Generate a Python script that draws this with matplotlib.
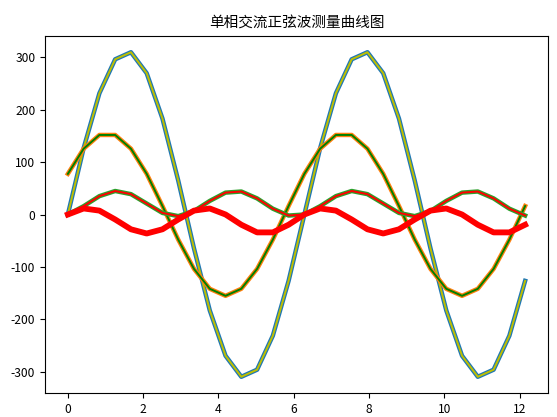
import matplotlib
matplotlib.use("Agg")
import matplotlib.pyplot as plt

plt.rcParams['font.family'] = ['Noto Sans CJK SC', 'DejaVu Sans']
plt.rcParams['axes.unicode_minus'] = False

x = [0.0, 0.419, 0.838, 1.257, 1.676, 2.094, 2.513, 2.932, 3.351, 3.770,
     4.189, 4.608, 5.027, 5.445, 5.864, 6.283, 6.702, 7.121, 7.540, 7.959,
     8.378, 8.796, 9.215, 9.634, 10.053, 10.472, 10.891, 11.310, 11.729, 12.148]

voltage = [0, 126.5, 231.1, 295.8, 309.3, 269.3, 182.8, 64.7, -64.7, -182.8,
           -269.3, -309.3, -295.8, -231.1, -126.5, 0, 126.5, 231.1, 295.8, 309.3,
           269.3, 182.8, 64.7, -64.7, -182.8, -269.3, -309.3, -295.8, -231.1, -126.5]

current = [77.5, 125.4, 151.6, 151.6, 125.4, 77.5, 16.2, -47.9, -103.7, -141.6,
           -155.0, -141.6, -103.7, -47.9, 16.2, 77.5, 125.4, 151.6, 151.6, 125.4,
           77.5, 16.2, -47.9, -103.7, -141.6, -155.0, -141.6, -103.7, -47.9, 16.2]

power_a = [0, 15.9, 35.0, 44.8, 38.8, 20.9, 3.0, -3.1, 6.7, 25.9,
           41.7, 43.8, 30.7, 11.1, -2.0, 0, 15.9, 35.0, 44.8, 38.8,
           20.9, 3.0, -3.1, 6.7, 25.9, 41.7, 43.8, 30.7, 11.1, -2.0]

power_b = [0, 11.5, 7.4, -9.5, -28.2, -36.2, -28.2, -9.5, 7.4, 11.5,
           0, -19.5, -34.1, -34.1, -19.5, 0, 11.5, 7.4, -9.5, -28.2,
           -36.2, -28.2, -9.5, 7.4, 11.5, 0, -19.5, -34.1, -34.1, -19.5]

title = "单相交流正弦波测量曲线图"

fig = plt.figure(figsize=(5.57, 4.17), dpi=100)
ax = fig.add_axes([45/557, 1-393/417, (548-45)/557, (393-36)/417])

ax.plot(x, voltage, color='#1f77b4', lw=3.2)
ax.plot(x, voltage, color='y', lw=1.4)
ax.plot(x, current, color='#ff7f0e', lw=3.2)
ax.plot(x, current, color='g', lw=1.4)
ax.plot(x, power_a, color='#2ca02c', lw=3.2)
ax.plot(x, power_a, color='r', lw=1.4)
ax.plot(x, power_b, color='r', lw=4.2)

ax.set_xticks([0, 2, 4, 6, 8, 10, 12])
ax.set_yticks([-300, -200, -100, 0, 100, 200, 300])
ax.tick_params(labelsize=8.7, length=3.5, width=0.8)
ax.set_title(title, fontsize=10.5, pad=6)

fig.savefig("out.png", dpi=100)
